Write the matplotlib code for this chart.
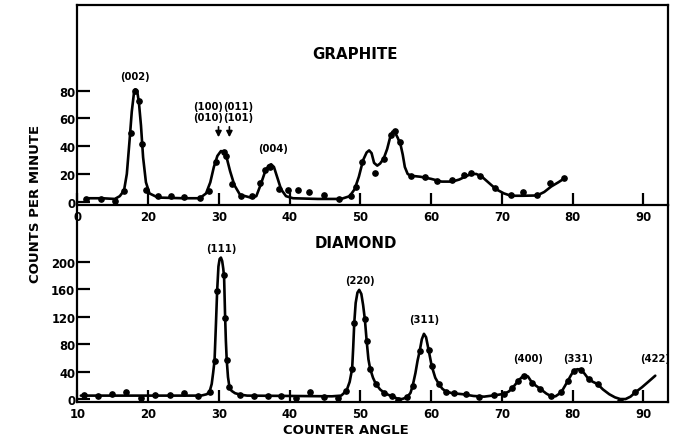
import matplotlib
matplotlib.use("Agg")
import matplotlib.pyplot as plt

# ---------------- data ----------------
# Graphite: measured points
g_pts_x = [11.2, 13.3, 15.3, 16.6, 17.65, 18.2, 18.7, 19.1, 19.75, 21.4, 23.2, 25.1, 27.3,
           28.6, 29.6, 30.7, 31.05, 31.85, 33.15, 34.65, 35.8, 36.55, 37.3, 38.55, 39.75,
           41.15, 42.8, 44.9, 47.0, 48.75, 49.4, 50.3, 52.05, 53.3, 54.3, 54.9, 55.6, 57.1,
           59.1, 60.9, 63.0, 64.65, 65.6, 66.9, 69.1, 71.25, 73.0, 75.0, 76.8, 78.75]
g_pts_y = [2, 2, 0.7, 7.5, 49.5, 80, 72.8, 41.5, 8.6, 4, 3.8, 3.2, 2.4,
           7.9, 28.8, 35.6, 32.7, 12.8, 4.3, 4.3, 13.5, 23, 24.8, 9, 8.5,
           8.5, 7, 4.5, 2, 4.3, 10.4, 28.4, 20.5, 30.8, 48, 51, 42.8, 18.7,
           17.6, 15, 15.5, 19, 21, 18.3, 9.7, 4.8, 6.8, 4.8, 13.3, 16.9]
# Graphite: hand-drawn curve
g_curve_x = [11.2, 13.5, 15.3, 16.0, 16.6, 17.0, 17.4, 17.7, 18.0, 18.2, 18.45, 18.7, 19.0,
             19.3, 19.7, 20.2, 21.4, 25, 27.3, 28.2, 28.8, 29.3, 29.8, 30.3, 30.7, 31.1,
             31.6, 32.2, 33.0, 34.5, 35.3, 35.9, 36.5, 37.0, 37.4, 37.8, 38.3, 38.8, 39.5,
             40.5, 44, 47.3, 48.5, 49.2, 49.8, 50.4, 50.9, 51.25, 51.6, 51.95, 52.4, 52.8,
             53.3, 53.8, 54.2, 54.55, 54.9, 55.3, 55.7, 56.0, 56.3, 56.7, 57.2, 58.5, 60,
             61.5, 63, 64.0, 65.0, 65.7, 66.4, 67.2, 68.2, 69.2, 70.3, 71.3, 73, 75, 76,
             77, 78, 78.75]
g_curve_y = [2.5, 2.5, 2.0, 4, 8, 20, 45, 65, 78, 81, 80, 72, 55,
             32, 14, 6, 3, 2.5, 2.5, 6, 14, 25, 33, 36.5, 36, 32,
             22, 12, 5, 3, 4, 12, 21, 26, 27, 25, 17, 9, 4,
             2.5, 2, 2, 4, 9, 18, 30, 35.5, 37, 35, 28, 26, 27.5,
             31, 38, 46, 50.5, 50, 46, 41, 34, 25, 20, 18.7, 18, 16.5,
             14.5, 14.5, 16, 18.5, 20, 20, 18, 13.5, 9, 6, 4.3, 4.3, 4.5, 7,
             11, 14, 16.5]

# Diamond: measured points
d_pts_x = [10.97, 12.95, 14.96, 16.94, 18.96, 21.03, 23.05, 25.1, 27.05, 28.7, 29.4, 29.77,
           30.73, 30.86, 31.12, 31.48, 33.06, 34.95, 36.9, 38.8, 40.92, 42.93, 44.9, 46.9,
           48.05, 48.85, 49.15, 50.65, 50.9, 51.4, 52.2, 53.4, 54.55, 55.3, 56.6, 57.4,
           58.4, 59.65, 60.1, 61.1, 62.1, 63.3, 64.9, 66.8, 68.9, 70.3, 71.5, 72.27, 73.1,
           74.3, 75.47, 76.98, 78.4, 79.3, 80.17, 81.2, 82.28, 83.55, 86.75, 88.87]
d_pts_y = [5.8, 4.9, 6.8, 9.7, 1, 6.3, 6.3, 8.7, 4.9, 10.7, 56, 158,
           180, 118, 57, 17, 6.3, 3.9, 3.9, 4.9, 1, 10.7, 3.4, 1,
           12, 44, 111, 116, 85, 44, 22, 9, 4, -1, 2.5, 19,
           70, 72, 48, 22, 10.6, 9.5, 7.3, 2.5, 6.3, 7.3, 16, 25.7, 33,
           23.3, 14.6, 3.9, 9.7, 25.7, 41.2, 42.2, 29, 21.8, -2.4, 9.7]
# Diamond: hand-drawn curve
d_curve_x = [10.5, 20, 27.5, 28.3, 28.7, 29.0, 29.2, 29.4, 29.6, 29.77, 29.95, 30.12, 30.3,
             30.48, 30.63, 30.75, 30.88, 31.0, 31.12, 31.3, 31.5, 31.8, 32.3, 33.0, 34,
             40, 46, 47.3, 48.05, 48.5, 48.85, 49.0, 49.15, 49.35, 49.6, 49.85, 50.15, 50.4,
             50.65, 50.9, 51.15, 51.4, 51.8, 52.2, 52.8, 53.4, 54.0, 54.6, 55.3, 55.9, 56.6,
             57.1, 57.4, 57.8, 58.1, 58.4, 58.7, 59.0, 59.3, 59.65, 60.1, 60.6, 61.1, 61.6,
             62.1, 63, 64.5, 66, 67.5, 69, 70.3, 71.0, 71.5, 72.27, 72.8, 73.3, 73.7, 74.3,
             75.47, 76.3, 76.98, 77.6, 78.4, 79.3, 79.8, 80.17, 80.7, 81.2, 81.7, 82.28, 82.9,
             83.55, 84.3, 85.2, 86.0, 86.75, 87.5, 88.2, 88.87, 89.8, 90.7, 91.7]
d_curve_y = [5, 5, 5, 7, 10.7, 22, 38, 56, 110, 158, 193, 204, 206,
             201, 190, 178, 125, 85, 57, 32, 18, 12, 8.5, 6.5, 5,
             4.5, 4, 5, 12, 25, 44, 75, 111, 140, 155, 159, 153, 137,
             116, 85, 58, 44, 31, 22, 14, 9, 6, 3.5, 0.5, 0, 2.5,
             9, 19, 38, 56, 70, 87, 95, 90, 72, 48, 31, 22, 15,
             11, 8.5, 7, 4.5, 3.5, 5.5, 7.5, 11, 16, 25.7, 31.5, 34, 33, 23.5,
             14.6, 8, 4, 4, 9.7, 25.7, 35, 41, 43.5, 42.5, 37, 29, 25,
             21.8, 14, 7, 2.5, 0, 0, 3.5, 9.7, 17, 25, 34]

# ticks / labels
x_tick_pos = [10, 20, 30, 40, 50, 60, 70, 80, 90]
g_xtick_labels = ["0", "20", "30", "40", "50", "60", "70", "80", "90"]
d_xtick_labels = ["10", "20", "30", "40", "50", "60", "70", "80", "90"]
g_yticks = [0, 20, 40, 60, 80]
d_yticks = [0, 40, 80, 120, 160, 200]

g_peak_labels = ["(002)", "(004)"]
g_peak_label_x = [18.2, 37.7]
g_peak_label_y = [90.4, 38.7]
d_peak_labels = ["(111)", "(220)", "(311)", "(400)", "(331)", "(422)"]
d_peak_label_x = [30.3, 49.9, 59.0, 73.7, 80.8, 91.7]
d_peak_label_y = [220, 174, 117, 60, 60, 60]

# ---------------- figure ----------------
fig = plt.figure(figsize=(6.74, 4.39), dpi=100)
ax2 = fig.add_axes([0.1147, 0.0831, 0.8764, 0.4483])
ax1 = fig.add_axes([0.1147, 0.5314, 0.8764, 0.4549])
ax1.set_zorder(3)
ax1.patch.set_alpha(0)

bold = dict(fontweight="bold", family="DejaVu Sans", color="black")

for ax in (ax1, ax2):
    for s in ax.spines.values():
        s.set_linewidth(1.6)
        s.set_color("black")
    ax.set_xlim(10, 93.5)
    ax.tick_params(axis="both", direction="in", width=1.6, colors="black",
                   labelsize=8.4)
    ax.tick_params(axis="x", length=8.5, pad=4)
    ax.tick_params(axis="y", length=9.5, pad=1.5)
    ax.set_xticks(x_tick_pos)
ax2.spines["top"].set_visible(False)

# graphite
ax1.plot(g_curve_x, g_curve_y, color="black", lw=1.9, solid_capstyle="round")
ax1.plot(g_pts_x, g_pts_y, "o", color="black", ms=3.8)
ax1.set_ylim(-2.16, 141.8)
ax1.set_yticks(g_yticks)
ax1.set_xticklabels(g_xtick_labels)
for lbl in ax1.get_xticklabels() + ax1.get_yticklabels():
    lbl.set_fontweight("bold")
ax1.text(49.3, 106.5, "GRAPHITE", ha="center", va="center", fontsize=10.8, **bold)
for t, x, y in zip(g_peak_labels, g_peak_label_x, g_peak_label_y):
    ax1.text(x, y, t, ha="center", va="center", fontsize=7.2, **bold)
ax1.text(28.46, 69.2, "(100)", ha="center", va="center", fontsize=7.2, **bold)
ax1.text(28.46, 60.8, "(010)", ha="center", va="center", fontsize=7.2, **bold)
ax1.text(32.78, 69.2, "(011)", ha="center", va="center", fontsize=7.2, **bold)
ax1.text(32.78, 60.8, "(101)", ha="center", va="center", fontsize=7.2, **bold)
for ax_x in (29.96, 31.5):
    ax1.annotate("", xy=(ax_x, 46.5), xytext=(ax_x, 54),
                 arrowprops=dict(arrowstyle="-|>,head_length=0.35,head_width=0.18",
                                 color="black", lw=1.2, shrinkA=0, shrinkB=0))

# diamond
ax2.plot(d_curve_x, d_curve_y, color="black", lw=1.9, solid_capstyle="round")
ax2.plot(d_pts_x, d_pts_y, "o", color="black", ms=3.8)
ax2.set_ylim(-3.6, 283)
ax2.set_yticks(d_yticks)
ax2.set_xticklabels(d_xtick_labels)
for lbl in ax2.get_xticklabels() + ax2.get_yticklabels():
    lbl.set_fontweight("bold")
ax2.text(49.3, 228, "DIAMOND", ha="center", va="center", fontsize=10.8, **bold)
for t, x, y in zip(d_peak_labels, d_peak_label_x, d_peak_label_y):
    ax2.text(x, y, t, ha="center", va="center", fontsize=7.2, **bold)

fig.text(0.052, 0.535, "COUNTS PER MINUTE", rotation=90, ha="center", va="center",
         fontsize=9.5, **bold)
fig.text(0.513, 0.0205, "COUNTER ANGLE", ha="center", va="center",
         fontsize=9.5, **bold)

fig.savefig("out.png", dpi=100)
